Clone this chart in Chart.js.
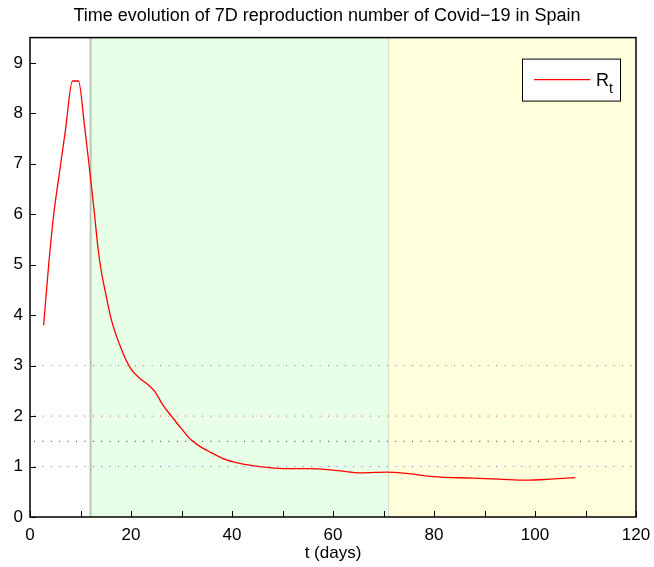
<!DOCTYPE html>
<html>
<head>
<meta charset="utf-8">
<script src="https://cdn.jsdelivr.net/npm/chart.js@4.4.0/dist/chart.umd.min.js"></script>
<style>
  html, body { margin: 0; padding: 0; background: #fff; }
  #wrap { width: 654px; height: 567px; }
</style>
</head>
<body>
<div id="wrap"><canvas id="chart"></canvas></div>
<script>
// R_t curve (day, value)
const days = [2.7, 3.7, 4.7, 5.7, 7.0, 8.4, 9.6, 10.8, 11.8, 12.7, 13.5, 14.1, 14.8, 16.1, 18.4, 19.7, 20.4, 21.7, 23.4, 24.7, 26.3, 28.0, 30.0, 32.0, 33.8, 35.6, 38.9, 42.2, 45.5, 50.1, 55.4, 60.0, 65.9, 70.6, 75.0, 79.8, 87.7, 93.0, 98.3, 103.0, 108.0];
const rt = [3.8, 5.0, 6.0, 6.73, 7.65, 8.64, 8.64, 7.75, 6.89, 6.07, 5.3, 4.88, 4.52, 3.91, 3.25, 2.98, 2.88, 2.75, 2.62, 2.49, 2.22, 2.0, 1.75, 1.52, 1.39, 1.29, 1.13, 1.05, 1.0, 0.96, 0.96, 0.93, 0.875, 0.89, 0.86, 0.80, 0.77, 0.75, 0.73, 0.75, 0.78];

// reference levels (dotted lines)
const refLevels = [3, 2, 1.5, 1];
const refColors = ['#7a8a7a', '#ff3030', '#303030', '#7070ff'];

// shaded phases
const phaseStart = [12, 71];
const phaseEnd = [71, 120];
const phaseFill = ['#e6ffe6', '#ffffdc'];
const phaseEdge = ['#b4c8b4', '#d4dccc'];

const xMin = 0, xMax = 120, xStep = 10;
const yMin = 0, yMax = 9.5;
const yTicks = [0, 1, 2, 3, 4, 5, 6, 7, 8, 9];

const phasePlugin = {
  id: 'phases',
  beforeDatasetsDraw(chart) {
    const { ctx, chartArea: a, scales: { x } } = chart;
    ctx.save();
    phaseStart.forEach((s, i) => {
      const x0 = x.getPixelForValue(s);
      const x1 = x.getPixelForValue(phaseEnd[i]);
      ctx.fillStyle = phaseFill[i];
      ctx.fillRect(x0, a.top, x1 - x0, a.bottom - a.top);
    });
    phaseStart.forEach((s, i) => {
      const x0 = x.getPixelForValue(s);
      ctx.strokeStyle = phaseEdge[i];
      ctx.lineWidth = i === 0 ? 2 : 1;
      ctx.beginPath();
      ctx.moveTo(x0, a.top);
      ctx.lineTo(x0, a.bottom);
      ctx.stroke();
    });
    ctx.restore();
  }
};

const framePlugin = {
  id: 'frame',
  afterDatasetsDraw(chart) {
    const { ctx, chartArea: a, scales: { x, y } } = chart;
    ctx.save();
    ctx.strokeStyle = '#000';
    ctx.lineWidth = 1;
    // inward ticks
    ctx.beginPath();
    for (let v = xMin; v <= xMax; v += xStep) {
      const px = Math.round(x.getPixelForValue(v)) + 0.5;
      ctx.moveTo(px, a.bottom);
      ctx.lineTo(px, a.bottom - 6);
    }
    yTicks.forEach(v => {
      const py = Math.round(y.getPixelForValue(v)) + 0.5;
      ctx.moveTo(a.left, py);
      ctx.lineTo(a.left + 6, py);
    });
    ctx.stroke();
    // box
    ctx.lineWidth = 1.5;
    ctx.strokeRect(a.left, a.top, a.right - a.left, a.bottom - a.top);

    // legend
    const lx = a.right - 114, ly = a.top + 21, lw = 98, lh = 42;
    ctx.fillStyle = '#fff';
    ctx.fillRect(lx, ly, lw, lh);
    ctx.lineWidth = 1;
    ctx.strokeRect(lx + 0.5, ly + 0.5, lw, lh);
    ctx.strokeStyle = '#ff0000';
    ctx.lineWidth = 1.2;
    ctx.beginPath();
    ctx.moveTo(lx + 12, ly + 21);
    ctx.lineTo(lx + 68, ly + 21);
    ctx.stroke();
    ctx.fillStyle = '#000';
    ctx.textBaseline = 'alphabetic';
    ctx.font = '18px "Liberation Sans", Arial, sans-serif';
    ctx.fillText('R', lx + 74, ly + 27);
    ctx.font = '14px "Liberation Sans", Arial, sans-serif';
    ctx.fillText('t', lx + 87, ly + 34);
    ctx.restore();
  }
};

const datasets = refLevels.map((lv, i) => ({
  data: [{ x: 0.8, y: lv }, { x: xMax, y: lv }],
  borderColor: refColors[i],
  borderWidth: 1,
  borderDash: [1, 7.4],
  pointRadius: 0,
  fill: false
}));
datasets.push({
  label: 'Rt',
  data: days.map((d, i) => ({ x: d, y: rt[i] })),
  borderColor: '#ff0000',
  borderWidth: 1.3,
  pointRadius: 0,
  cubicInterpolationMode: 'monotone',
  fill: false
});

const font = { family: '"Liberation Sans", Arial, sans-serif', size: 17 };

new Chart(document.getElementById('chart'), {
  type: 'line',
  data: { datasets },
  options: {
    responsive: true,
    maintainAspectRatio: false,
    animation: false,
    layout: { padding: 0 },
    plugins: {
      legend: { display: false },
      tooltip: { enabled: false },
      title: {
        display: true,
        text: 'Time evolution of 7D reproduction number of Covid\u221219 in Spain',
        color: '#000',
        font: { family: font.family, size: 18, weight: 'normal' },
        padding: { top: 5, bottom: 11 }
      }
    },
    scales: {
      x: {
        type: 'linear',
        min: xMin,
        max: xMax,
        grid: { display: false, drawTicks: false },
        border: { display: false },
        ticks: {
          stepSize: xStep,
          color: '#000',
          font,
          padding: 8,
          maxRotation: 0,
          callback: v => (v % 20 === 0 ? v : '')
        },
        title: { display: true, text: 't (days)', color: '#000', font, padding: { top: 4, bottom: 3 } },
        afterFit: s => { s.height = 50; s.paddingRight = 18; s.paddingLeft = 0; }
      },
      y: {
        min: yMin,
        max: yMax,
        grid: { display: false, drawTicks: false },
        border: { display: false },
        afterBuildTicks: s => { s.ticks = yTicks.map(v => ({ value: v })); },
        ticks: { color: '#000', font, padding: 7 },
        afterFit: s => { s.width = 30; }
      }
    }
  },
  plugins: [phasePlugin, framePlugin]
});
</script>
</body>
</html>
